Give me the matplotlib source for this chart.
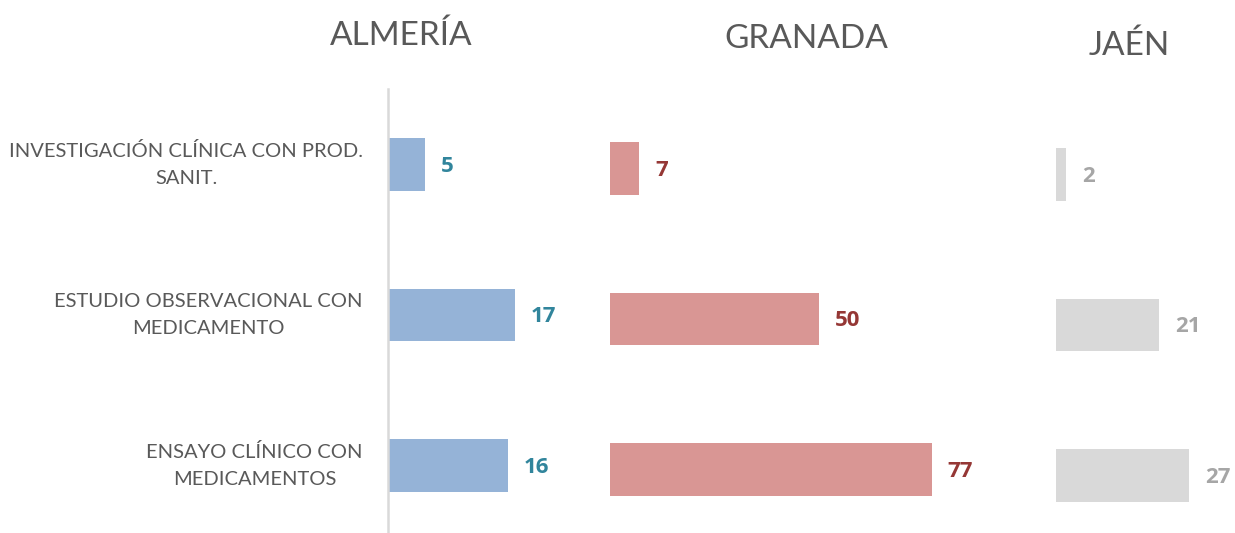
import matplotlib
matplotlib.use("Agg")
import matplotlib.pyplot as plt

plt.rcParams['font.family'] = ['Lato', 'DejaVu Sans']

categories = ["INVESTIGACIÓN CLÍNICA CON PROD.\nSANIT.",
              "ESTUDIO OBSERVACIONAL CON\nMEDICAMENTO",
              "ENSAYO CLÍNICO CON\nMEDICAMENTOS"]
provinces = ["ALMERÍA", "GRANADA", "JAÉN"]
almeria = [5, 17, 16]
granada = [7, 50, 77]
jaen = [2, 21, 27]

W, H = 1235, 533
fig = plt.figure(figsize=(W / 100, H / 100), dpi=100)

# panel specs in pixels: left, width, top of axes, px per unit
panels = [
    dict(name=provinces[0], vals=almeria, left=388, width=200, top=89.25, ppu=7.47,
         bar="#95B3D7", lab="#31859C", spine=True, tx=401, ty=36),
    dict(name=provinces[1], vals=granada, left=610, width=400, top=93.25, ppu=4.18,
         bar="#D99694", lab="#953735", spine=False, tx=806, ty=39),
    dict(name=provinces[2], vals=jaen, left=1056, width=170, top=99.25, ppu=4.92,
         bar="#D9D9D9", lab="#A6A6A6", spine=False, tx=1129, ty=46),
]
step = 150.5
for i, p in enumerate(panels):
    h = 3 * step
    ax = fig.add_axes([p['left'] / W, 1 - (p['top'] + h) / H, p['width'] / W, h / H])
    y = list(range(len(categories)))
    ax.barh(y, p['vals'], height=0.35, color=p['bar'])
    ax.set_xlim(0, p['width'] / p['ppu'])
    ax.set_ylim(2.5, -0.5)
    for yy, v in zip(y, p['vals']):
        ax.text(v + 16 / p['ppu'], yy + 0.01, str(v), ha='left', va='center',
                fontsize=16, fontweight='bold', color=p['lab'],
                family=['Open Sans', 'DejaVu Sans'])
    for s in ['top', 'right', 'bottom']:
        ax.spines[s].set_visible(False)
    if p['spine']:
        ax.spines['left'].set_color('#D9D9D9')
        ax.spines['left'].set_linewidth(1.8)
        ax.set_yticks(y)
        ax.set_yticklabels(categories, fontsize=14.5, color='#595959',
                           multialignment='center', linespacing=1.75)
        for t in ax.get_yticklabels():
            t.set_verticalalignment('center')
        ax.tick_params(axis='y', length=0, pad=18)
    else:
        ax.spines['left'].set_visible(False)
        ax.set_yticks([])
    ax.set_xticks([])
    ax.patch.set_alpha(0)
    fig.text(p['tx'] / W, 1 - p['ty'] / H, p['name'], ha='center', va='center',
             fontsize=24, color='#595959')

fig.savefig("out.png", dpi=100)
